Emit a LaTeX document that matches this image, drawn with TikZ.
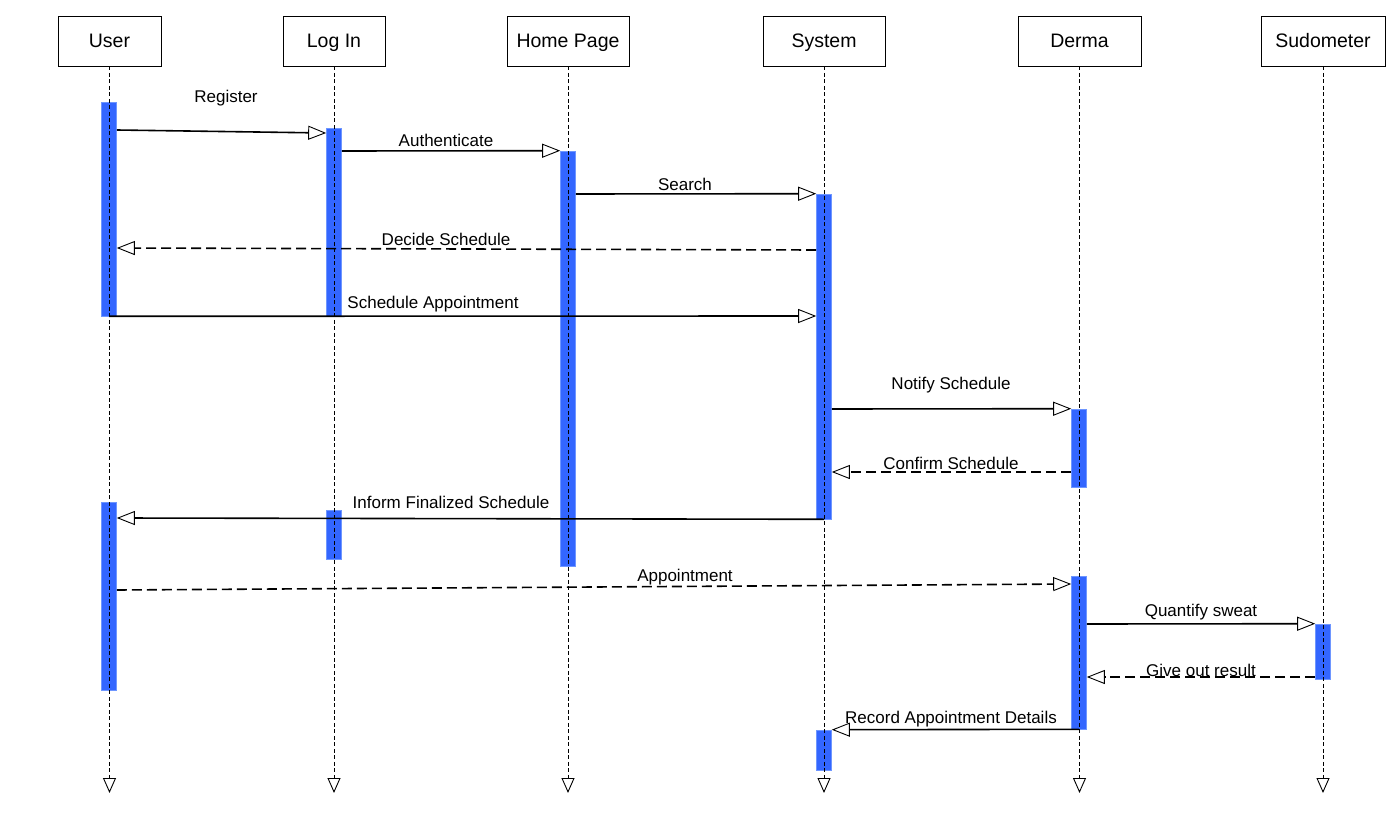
\documentclass[tikz,border=0pt]{standalone}
\usepackage{fontspec}
\setmainfont{Liberation Sans}
\usetikzlibrary{arrows.meta, positioning}
\definecolor{barblue}{RGB}{51,102,255}
\definecolor{barline}{RGB}{110,150,255}

\begin{document}
\begin{tikzpicture}[x=1pt, y=-1pt,
    head/.style={draw, line width=0.9pt, minimum height=50pt, inner sep=0pt,
                 text height=16pt, text depth=2pt,
                 font=\fontsize{19.5}{22}\selectfont},
    life/.style={line width=0.8pt, dash pattern=on 4pt off 2.5pt,
                 -{Triangle[open, length=15pt, width=13pt, line width=0.9pt]}},
    bar/.style={fill=barblue, draw=barline, line width=0.6pt, minimum width=15pt,
                inner sep=0pt},
    msg/.style={line width=1.6pt,
                -{Triangle[open, length=18pt, width=14pt, line width=0.9pt]}},
    reply/.style={msg, dash pattern=on 10pt off 5pt},
    lbl/.style={font=\fontsize{17}{20}\selectfont, inner sep=0pt,
                text height=13pt, text depth=0pt}]

    \useasboundingbox (0,0) rectangle (1400,826);

    % Lifeline heads
    \node[head, minimum width=103pt] (user)   at (109.5,41) {User};
    \node[head, minimum width=102pt] (login)  at (334,41)   {Log In};
    \node[head, minimum width=122pt] (home)   at (568,41)   {Home Page};
    \node[head, minimum width=122pt] (system) at (824,41)   {System};
    \node[head, minimum width=123pt] (derma)  at (1079.5,41) {Derma};
    \node[head, minimum width=124pt] (sudo)   at (1323,41)  {Sudometer};

    % Activation bars: name / x / top / bottom
    \foreach \n/\x/\t/\b in {uA/109/102/316, uB/109/502/690,
                             lA/334/128/316, lB/334/510/559,
                             hA/568/151/566,
                             sA/824/194/519, sB/824/730/770,
                             dA/1079/409/487, dB/1079/576/729,
                             zA/1323/624/679} {
        \pgfmathsetmacro{\h}{\b-\t}
        \pgfmathsetmacro{\m}{(\b+\t)/2}
        \node[bar, minimum height=\h pt] (\n) at (\x,\m) {};
    }

    % Lifelines
    \foreach \p in {user, login, home, system, derma, sudo} {
        \coordinate (\p-end) at (\p.south |- 0,793);
        \draw[life] (\p.south) -- (\p-end);
    }

    % Messages
    \draw[msg]   (uA.east |- 0,130) -- (lA.west |- 0,133);
    \draw[msg]   (lA.east |- 0,151) -- (hA.north west);
    \draw[msg]   (hA.east |- 0,194) -- (sA.north west);
    \draw[reply] (sA.west |- 0,250) -- (uA.east |- 0,248);
    \draw[msg]   (uA.south) -- (sA.west |- 0,316);
    \draw[msg]   (sA.east |- 0,409) -- (dA.north west);
    \draw[reply] (dA.west |- 0,472) -- (sA.east |- 0,472);
    \draw[msg]   (sA.south) -- (uB.east |- 0,518);
    \draw[reply] (uB.east |- 0,590) -- (dB.west |- 0,584);
    \draw[msg]   (dB.east |- 0,624) -- (zA.north west);
    \draw[reply] (zA.west |- 0,677) -- (dB.east |- 0,677);
    \draw[msg]   (dB.south) -- (sB.north east);

    % Message labels
    \node[lbl] (tRegister) at (226,96)  {Register};
    \node[lbl] (tAuth)     at (446,140) {Authenticate};
    \node[lbl] (tSearch)   at (685,184) {Search};
    \node[lbl] (tDecide)   at (446,239) {Decide Schedule};
    \node[lbl] (tSchedule) at (433,302) {Schedule Appointment};
    \node[lbl] (tNotify)   at (951,383) {Notify Schedule};
    \node[lbl] (tConfirm)  at (951,463) {Confirm Schedule};
    \node[lbl] (tInform)   at (451,502) {Inform Finalized Schedule};
    \node[lbl] (tAppoint)  at (685,575) {Appointment};
    \node[lbl] (tQuantify) at (1201,610) {Quantify sweat};
    \node[lbl] (tResult)   at (1201,670) {Give out result};
    \node[lbl] (tRecord)   at (951,717) {Record Appointment Details};

\end{tikzpicture}
\end{document}
